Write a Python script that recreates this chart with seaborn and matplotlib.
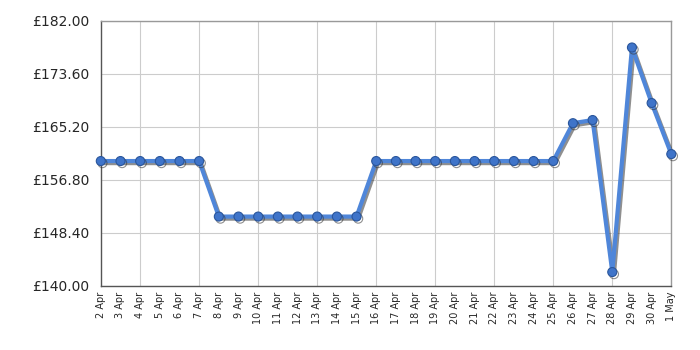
import matplotlib
matplotlib.use("Agg")
import matplotlib.pyplot as plt
import matplotlib.patheffects as pe
import seaborn as sns
import pandas as pd
import numpy as np

dates = ["2 Apr", "3 Apr", "4 Apr", "5 Apr", "6 Apr", "7 Apr", "8 Apr", "9 Apr",
         "10 Apr", "11 Apr", "12 Apr", "13 Apr", "14 Apr", "15 Apr", "16 Apr",
         "17 Apr", "18 Apr", "19 Apr", "20 Apr", "21 Apr", "22 Apr", "23 Apr",
         "24 Apr", "25 Apr", "26 Apr", "27 Apr", "28 Apr", "29 Apr", "30 Apr", "1 May"]
prices = [159.8, 159.8, 159.8, 159.8, 159.8, 159.8,
          151.0, 151.0, 151.0, 151.0, 151.0, 151.0, 151.0, 151.0,
          159.8, 159.8, 159.8, 159.8, 159.8, 159.8, 159.8, 159.8, 159.8, 159.8,
          165.8, 166.3, 142.2, 177.8, 169.0, 160.9]
y_ticks = [140.00, 148.40, 156.80, 165.20, 173.60, 182.00]

df = pd.DataFrame({"idx": np.arange(len(dates)), "date": dates, "price": prices})

sns.set_style("white")
plt.rcParams['font.family'] = ['DejaVu Sans']

fig = plt.figure(figsize=(7, 3.5), dpi=100)
ax = fig.add_axes([0.144, 0.183, 0.815, 0.757])

sns.lineplot(data=df, x="idx", y="price", ax=ax, color="#4f86d9", linewidth=3,
             marker="o", markersize=6.5, markerfacecolor="#3f74c9",
             markeredgecolor="#2a569c", markeredgewidth=0.8,
             path_effects=[pe.SimpleLineShadow(offset=(1.2, -1.5), shadow_color="#333333", alpha=0.55),
                           pe.Normal()],
             zorder=5, clip_on=False)

ax.set_xlim(0, len(dates) - 1)
ax.set_ylim(140, 182)
ax.set_yticks(y_ticks)
ax.set_yticklabels([f"£{v:.2f}" for v in y_ticks], fontsize=10)

ax.xaxis.remove_overlapping_locs = False
major = list(range(2, len(dates), 3))
ax.set_xticks(major)
ax.set_xticklabels([])
ax.set_xticks(range(len(dates)), minor=True)
ax.set_xticklabels(dates, minor=True, rotation=90, fontsize=7, va="top")
ax.tick_params(axis="x", which="minor", length=0, pad=4)
ax.tick_params(axis="x", which="major", length=5, width=1, color="#333333", direction="out")
ax.tick_params(axis="y", length=6, width=1, color="#333333", direction="out", pad=2)

ax.grid(True, which="major", color="#cccccc", linewidth=0.8)
ax.set_axisbelow(True)
for s in ax.spines.values():
    s.set_color("#999999")
    s.set_linewidth(1)
ax.spines["bottom"].set_color("#555555")
ax.spines["left"].set_color("#555555")
ax.set_xlabel("")
ax.set_ylabel("")

fig.savefig("out.png", dpi=100)
